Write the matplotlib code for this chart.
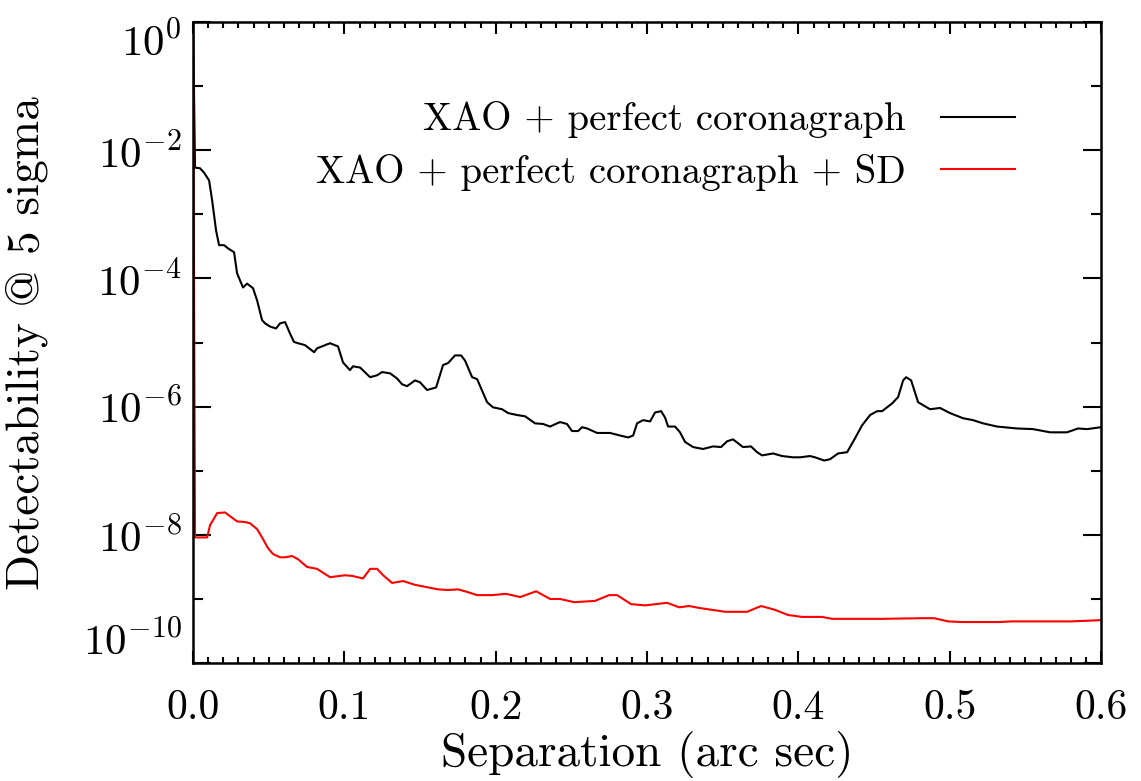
import matplotlib
matplotlib.use("Agg")
import matplotlib.pyplot as plt
from matplotlib.ticker import FixedLocator, FuncFormatter, MultipleLocator, NullFormatter
import numpy as np

plt.rcParams["font.family"] = "cmr10"
plt.rcParams["mathtext.fontset"] = "cm"
plt.rcParams["axes.unicode_minus"] = False

# separation (arcsec) and log10(detectability)
sep_xao = [0.000, 0.0013, 0.0046, 0.0073, 0.0106, 0.0126, 0.0152, 0.0172, 0.0205, 0.0231,
           0.0271, 0.0291, 0.0330, 0.0357, 0.0396, 0.0423, 0.0456, 0.0476, 0.0509, 0.0548,
           0.0575, 0.0608, 0.0641, 0.0667, 0.0694, 0.0740, 0.0800, 0.0819, 0.0852, 0.0905,
           0.0958, 0.0991, 0.1037, 0.1057, 0.1104, 0.1170, 0.1216, 0.1249, 0.1302, 0.1348,
           0.1381, 0.1414, 0.1467, 0.1500, 0.1546, 0.1606, 0.1652, 0.1685, 0.1731, 0.1771,
           0.1797, 0.1844, 0.1877, 0.1943, 0.1982, 0.2042, 0.2082, 0.2141, 0.2194, 0.2260,
           0.2313, 0.2359, 0.2425, 0.2471, 0.2504, 0.2544, 0.2571, 0.2604, 0.2670, 0.2756,
           0.2822, 0.2875, 0.2908, 0.2934, 0.2974, 0.3020, 0.3053, 0.3093, 0.3119, 0.3139,
           0.3185, 0.3218, 0.3251, 0.3304, 0.3370, 0.3436, 0.3489, 0.3529, 0.3568, 0.3601,
           0.3634, 0.3687, 0.3727, 0.3760, 0.3833, 0.3892, 0.3965, 0.4011, 0.4077, 0.4110,
           0.4170, 0.4209, 0.4262, 0.4322, 0.4375, 0.4421, 0.4474, 0.4520, 0.4553, 0.4619,
           0.4659, 0.4692, 0.4712, 0.4745, 0.4791, 0.4870, 0.4936, 0.5002, 0.5088, 0.5154,
           0.5220, 0.5313, 0.5445, 0.5551, 0.5663, 0.5775, 0.5848, 0.5908, 0.6000]
log_xao = [0.00, -2.27, -2.28, -2.35, -2.47, -2.78, -3.25, -3.48, -3.48, -3.53,
           -3.59, -3.92, -4.14, -4.08, -4.15, -4.34, -4.65, -4.70, -4.75, -4.78,
           -4.70, -4.68, -4.86, -4.99, -5.01, -5.04, -5.15, -5.09, -5.06, -5.01,
           -5.06, -5.31, -5.43, -5.37, -5.39, -5.54, -5.51, -5.46, -5.48, -5.56,
           -5.65, -5.68, -5.59, -5.62, -5.74, -5.70, -5.35, -5.32, -5.20, -5.20,
           -5.28, -5.54, -5.57, -5.93, -6.01, -6.04, -6.10, -6.13, -6.15, -6.26,
           -6.27, -6.31, -6.24, -6.27, -6.38, -6.38, -6.32, -6.34, -6.41, -6.41,
           -6.45, -6.48, -6.45, -6.26, -6.21, -6.23, -6.09, -6.07, -6.17, -6.31,
           -6.31, -6.40, -6.55, -6.63, -6.66, -6.62, -6.63, -6.54, -6.51, -6.57,
           -6.63, -6.62, -6.71, -6.76, -6.73, -6.77, -6.79, -6.79, -6.77, -6.79,
           -6.84, -6.82, -6.73, -6.71, -6.49, -6.29, -6.13, -6.07, -6.07, -5.95,
           -5.85, -5.59, -5.54, -5.59, -5.93, -6.04, -6.02, -6.10, -6.18, -6.21,
           -6.26, -6.31, -6.34, -6.35, -6.40, -6.40, -6.34, -6.35, -6.32]

sep_sd = [0.000, 0.0013, 0.0093, 0.0112, 0.0132, 0.0159, 0.0211, 0.0245, 0.0291, 0.0344,
          0.0377, 0.0423, 0.0456, 0.0496, 0.0529, 0.0575, 0.0608, 0.0654, 0.0694, 0.0753,
          0.0819, 0.0905, 0.1004, 0.1051, 0.1123, 0.1170, 0.1216, 0.1256, 0.1315, 0.1388,
          0.1467, 0.1533, 0.1619, 0.1685, 0.1751, 0.1811, 0.1877, 0.1976, 0.2068, 0.2161,
          0.2267, 0.2359, 0.2425, 0.2518, 0.2656, 0.2749, 0.2802, 0.2894, 0.2987, 0.3132,
          0.3212, 0.3278, 0.3344, 0.3516, 0.3661, 0.3753, 0.3846, 0.3932, 0.4024, 0.4156,
          0.4223, 0.4328, 0.4553, 0.4817, 0.4897, 0.4989, 0.5082, 0.5326, 0.5405, 0.5511,
          0.5802, 0.6000]
log_sd = [0.00, -8.04, -8.04, -7.85, -7.77, -7.66, -7.65, -7.71, -7.79, -7.80,
          -7.82, -7.91, -8.04, -8.21, -8.30, -8.35, -8.35, -8.33, -8.38, -8.50,
          -8.53, -8.66, -8.63, -8.64, -8.68, -8.53, -8.53, -8.63, -8.75, -8.72,
          -8.78, -8.81, -8.85, -8.86, -8.85, -8.89, -8.94, -8.94, -8.92, -8.97,
          -8.88, -9.00, -9.00, -9.05, -9.03, -8.94, -8.94, -9.08, -9.10, -9.06,
          -9.13, -9.11, -9.14, -9.20, -9.20, -9.11, -9.17, -9.25, -9.28, -9.28,
          -9.31, -9.31, -9.31, -9.30, -9.30, -9.35, -9.36, -9.36, -9.35, -9.35,
          -9.35, -9.33]

labels = ["XAO + perfect coronagraph", "XAO + perfect coronagraph + SD"]
colors = ["black", "red"]

fig = plt.figure(figsize=(11.41, 7.81), dpi=100, facecolor="white")
ax = fig.add_axes([0.1692, 0.151, 0.7958, 0.8207])

ax.plot(sep_xao, np.power(10.0, log_xao), color=colors[0], lw=1.5, label=labels[0])
ax.plot(sep_sd, np.power(10.0, log_sd), color=colors[1], lw=1.5, label=labels[1])

ax.set_yscale("log")
ax.set_xlim(0, 0.6)
ax.set_ylim(1e-10, 1)

# IDL-like ticks: inside, on all four sides
ax.xaxis.set_major_locator(MultipleLocator(0.1))
ax.xaxis.set_minor_locator(MultipleLocator(0.01))
ax.xaxis.set_major_formatter(FuncFormatter(lambda v, p: "%.1f" % v))
ax.yaxis.set_major_locator(FixedLocator([10.0 ** k for k in range(0, -11, -2)]))
ax.yaxis.set_minor_locator(FixedLocator([10.0 ** k for k in range(-1, -10, -2)]))
ax.yaxis.set_major_formatter(FuncFormatter(lambda v, p: r"$10^{%d}$" % round(np.log10(v))))
ax.yaxis.set_minor_formatter(NullFormatter())

ax.tick_params(axis="both", which="both", direction="in", top=True, right=True,
               width=1.5, colors="black")
ax.tick_params(axis="x", which="major", length=8.5, pad=19, labelsize=30)
ax.tick_params(axis="x", which="minor", length=4.3)
ax.tick_params(axis="y", which="major", length=13, pad=8, labelsize=31)
ax.tick_params(axis="y", which="minor", length=7)
for s in ax.spines.values():
    s.set_linewidth(1.8)

fig.canvas.draw()
ylabs = ax.get_yticklabels()
ylabs[0].set_va("top")
ylabs[-1].set_va("bottom")

ax.set_xlabel("Separation (arc sec)", fontsize=34)
ax.set_ylabel("Detectability @ 5 sigma", fontsize=34)
ax.xaxis.set_label_coords(0.5, -0.106)
ax.yaxis.set_label_coords(-0.16, 0.5)

ax.legend(loc="upper right", bbox_to_anchor=(1015 / 1141, 0.870),
          bbox_transform=fig.transFigure, frameon=False, fontsize=28,
          markerfirst=False, handlelength=1.9, handletextpad=0.9,
          labelspacing=0.4, borderpad=0, borderaxespad=0)

fig.savefig("out.png", dpi=100, facecolor="white")
